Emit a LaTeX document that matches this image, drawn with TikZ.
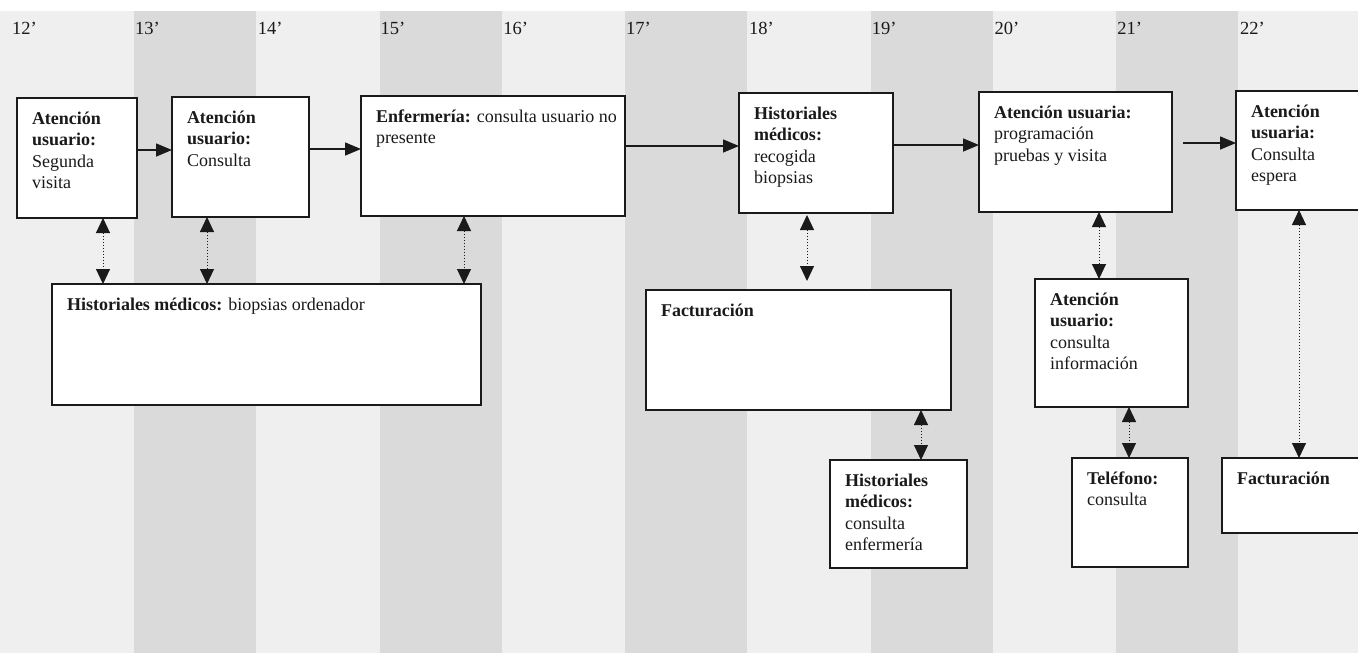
\documentclass[tikz,border=0pt]{standalone}
\usepackage{fontspec}
\setmainfont{Liberation Serif}
\usetikzlibrary{arrows.meta,calc}
\definecolor{lightstripe}{HTML}{EFEFEF}
\definecolor{darkstripe}{HTML}{DADADA}
\definecolor{inkline}{HTML}{1A1A1A}
\newcommand{\boxtxt}[3]{\parbox[t][#2][t]{#1}{\raggedright\rule{0pt}{14pt}#3}}
\newcommand{\procbox}[6]{\node[stepbox] (#1) at (#2,#3) {\boxtxt{\dimexpr#4pt-30pt\relax}{\dimexpr#5pt-24pt\relax}{#6}};}
\begin{document}
\begin{tikzpicture}[x=1pt,y=-1pt,
  stepbox/.style={draw=inkline, line width=1.8pt, fill=white, anchor=north west,
    inner xsep=15pt, inner ysep=12pt, outer sep=0pt, text=inkline,
    font=\fontsize{18}{21.5}\selectfont},
  flow/.style={draw=inkline, line width=1.5pt, -{Triangle[length=16pt,width=13pt]}},
  link/.style={draw=inkline, line width=1pt, dotted,
    {Triangle[length=15pt,width=14pt]}-{Triangle[length=15pt,width=14pt]}},
  collabel/.style={anchor=base west, inner sep=0pt, text=inkline,
    font=\fontsize{18.5}{20}\selectfont}]
\useasboundingbox (0,0) rectangle (1358,657);
\clip (0,0) rectangle (1358,657);
% background stripes
\fill[lightstripe] (0,11) rectangle (1358,653);
\foreach \i in {0,...,4}
  \fill[darkstripe] ({134+245.6*\i},11) rectangle ({256+245.6*\i},653);
% column labels
\foreach \t [count=\k from 0] in {12,...,22}
  \node[collabel] (c\t) at ({12+122.8*\k},34) {\t’};
% top row
\procbox{a1}{17}{98}{120}{120}{\textbf{Atención}\\\textbf{usuario:}\\Segunda\\visita}
\procbox{a2}{172}{97}{137}{120}{\textbf{Atención}\\\textbf{usuario:}\\Consulta}
\procbox{enf}{361}{96}{264}{120}{\mbox{\textbf{Enfermería:} consulta usuario no}\\presente}
\procbox{hm1}{739}{93}{154}{120}{\textbf{Historiales}\\\textbf{médicos:}\\recogida\\biopsias}
\procbox{au1}{979}{92}{193}{120}{\textbf{Atención usuaria:}\\programación\\pruebas y visita}
\procbox{au2}{1236}{91}{140}{119}{\textbf{Atención}\\\textbf{usuaria:}\\Consulta\\espera}
% middle row
\procbox{hm2}{52}{284}{429}{121}{\textbf{Historiales médicos:} biopsias ordenador}
\procbox{fac1}{646}{290}{305}{120}{\textbf{Facturación}}
\procbox{au3}{1035}{279}{153}{128}{\textbf{Atención}\\\textbf{usuario:}\\consulta\\información}
% bottom row
\procbox{hm3}{830}{460}{137}{108}{\textbf{Historiales}\\\textbf{médicos:}\\consulta\\enfermería}
\procbox{tel}{1072}{458}{116}{109}{\textbf{Teléfono:}\\consulta}
\procbox{fac2}{1222}{458}{150}{75}{\textbf{Facturación}}
% horizontal flow
\draw[flow] (a1.east |- 0,150) -- (a2.west |- 0,150);
\draw[flow] (a2.east |- 0,149) -- (enf.west |- 0,149);
\draw[flow] (enf.east |- 0,146) -- (hm1.west |- 0,146);
\draw[flow] (hm1.east |- 0,145) -- (au1.west |- 0,145);
\draw[flow, shorten <=11pt] (au1.east |- 0,143) -- (au2.west |- 0,143);
% vertical links
\draw[link] (a1.south -| 103,0) -- (hm2.north -| 103,0);
\draw[link] (a2.south -| 207,0) -- (hm2.north -| 207,0);
\draw[link] (enf.south -| 464,0) -- (hm2.north -| 464,0);
\draw[link, shorten <=2pt, shorten >=9pt] (hm1.south -| 807,0) -- (fac1.north -| 807,0);
\draw[link] (au1.south -| 1099,0) -- (au3.north -| 1099,0);
\draw[link] (au2.south -| 1299,0) -- (fac2.north -| 1299,0);
\draw[link] (fac1.south -| 921,0) -- (hm3.north -| 921,0);
\draw[link] (au3.south -| 1129,0) -- (tel.north -| 1129,0);
\end{tikzpicture}
\end{document}
